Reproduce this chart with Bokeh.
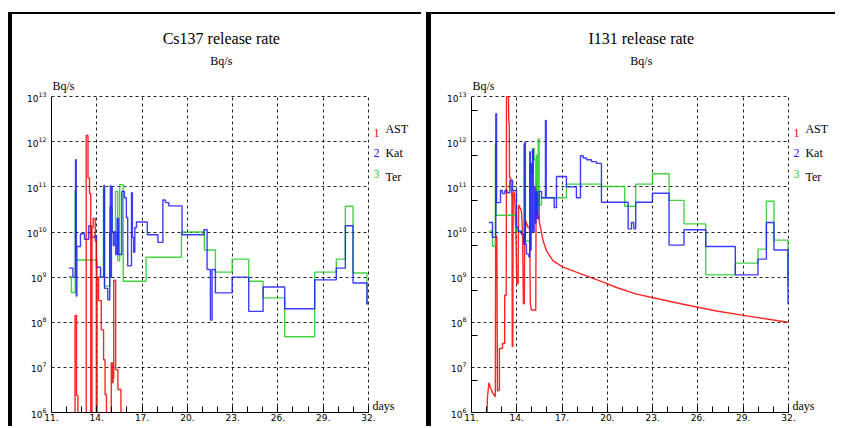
from bokeh.plotting import figure
from bokeh.layouts import row
from bokeh.models import (FixedTicker, PrintfTickFormatter, LogTickFormatter, Label, Range1d)
from bokeh.embed import file_html
from bokeh.resources import INLINE

# ---------------- data (days of month, log10 of release rate in Bq/s) ----------------
day_ticks = [11, 14, 17, 20, 23, 26, 29, 32]
day_minor = list(range(11, 33))
decades = [6, 7, 8, 9, 10, 11, 12, 13]
legend_names = ["AST", "Kat", "Ter"]

# Cs137 - AST (red)
cs_ast_t = [12.50, 12.56, 12.66, 12.75, 13.30, 13.42, 13.52, 13.60, 13.68, 13.76, 13.90, 13.97,
            14.02, 14.12, 14.30, 14.45, 14.55, 14.64, 14.96, 15.03, 15.08, 15.12, 15.25, 15.40,
            15.60, 32.0]
cs_ast_v = [5.0, 8.15, 6.38, 5.0, 12.14, 11.2, 10.85, 5.0, 10.1, 10.3, 9.8, 5.0,
            9.0, 8.48, 7.83, 7.17, 6.4, 5.0, 7.1, 6.66, 6.75, 8.93, 6.95, 6.51,
            5.0, 5.0]
# Cs137 - Kat (blue)
cs_kat_t = [12.15, 12.42, 12.59, 12.64, 12.68, 12.92, 13.19, 13.47, 13.63, 13.85, 13.98, 14.25,
            14.47, 14.52, 14.73, 14.86, 14.90, 14.93, 14.97, 15.02, 15.10, 15.15, 15.25, 15.35,
            15.44, 15.66, 15.83, 15.96, 16.05, 16.30, 16.36, 16.45, 16.52, 16.63, 17.35, 18.05,
            18.38, 18.55, 18.77, 19.65, 21.09, 21.31, 21.53, 21.64, 21.86, 22.97, 24.07, 25.02,
            26.45, 28.44, 29.87, 30.47, 30.98, 31.90, 32.0]
cs_kat_v = [9.20, 9.00, 11.60, 8.58, 9.68, 9.96, 9.84, 10.14, 9.88, 9.92, 9.22, 9.00,
            11.03, 8.75, 8.50, 10.0, 11.03, 9.0, 11.0, 10.0, 9.7, 10.0, 9.5, 10.3,
            9.5, 10.9, 10.76, 10.32, 9.25, 10.87, 9.88, 9.55, 10.1, 10.22, 9.94, 9.77,
            10.71, 10.65, 10.58, 9.94, 10.05, 9.17, 8.05, 9.17, 8.65, 9.0, 8.24, 8.78,
            8.30, 8.94, 9.20, 10.14, 8.87, 8.41, 8.41]
# Cs137 - Ter (green)
cs_ter_t = [12.15, 12.32, 12.57, 12.62, 14.02, 14.44, 14.50, 14.86, 15.02, 15.24, 15.39, 15.52,
            15.75, 17.27, 19.61, 21.13, 21.86, 22.97, 24.07, 25.02, 26.45, 28.44, 29.87, 30.47,
            30.98, 31.90, 32.0]
cs_ter_v = [9.01, 8.66, 10.92, 9.38, 9.0, 10.96, 8.80, 10.56, 10.0, 10.9, 9.36, 11.05,
            8.91, 9.44, 10.0, 9.6, 9.11, 9.40, 8.91, 8.54, 7.68, 9.11, 9.40, 10.57,
            9.09, 8.41, 8.41]

# I131 - AST (red)
i_ast_t = [12.0, 12.05, 12.15, 12.25, 12.40, 12.55, 12.58, 12.60, 12.68, 12.72, 12.85, 12.85,
           13.05, 13.05, 13.20, 13.20, 13.30, 13.32, 13.45, 13.47, 13.50, 13.52, 13.60, 13.68,
           13.70, 13.74, 13.76, 13.85, 13.95, 14.00, 14.09, 14.12, 14.20, 14.31, 14.38, 14.44,
           14.50, 14.52, 14.60, 14.75, 14.85, 14.90, 14.97, 15.26, 15.28, 15.40, 15.53, 15.75,
           15.97, 16.41, 17.07, 17.95, 18.84, 19.72, 20.60, 21.88, 22.81, 25.02, 27.23, 29.43,
           31.97]
i_ast_v = [5.0, 6.3, 6.66, 6.55, 6.44, 6.36, 6.36, 9.9, 9.9, 6.47, 6.5, 7.42,
           7.42, 7.53, 7.53, 8.6, 8.6, 13.0, 13.0, 12.43, 12.43, 11.2, 11.2, 10.75,
           7.46, 7.46, 10.9, 10.85, 9.88, 8.85, 8.85, 10.6, 10.55, 10.46, 10.0, 8.41,
           8.41, 9.73, 10.24, 10.1, 10.1, 8.41, 8.27, 8.27, 11.12, 10.39, 10.17, 9.8,
           9.58, 9.36, 9.22, 9.11, 9.0, 8.89, 8.77, 8.63, 8.56, 8.40, 8.25, 8.13,
           8.0]
# I131 - Kat (blue)
i_kat_t = [12.15, 12.39, 12.61, 12.66, 12.92, 13.05, 13.21, 13.36, 13.54, 13.72, 13.98, 14.09,
           14.31, 14.46, 14.53, 14.57, 14.64, 14.80, 14.86, 14.90, 14.95, 15.00, 15.05, 15.10,
           15.15, 15.20, 15.26, 15.35, 15.48, 15.64, 15.90, 15.95, 16.48, 16.63, 17.29, 17.95,
           18.22, 18.40, 18.62, 18.95, 19.28, 19.61, 21.38, 21.60, 21.75, 21.88, 22.99, 24.09,
           25.08, 26.52, 28.48, 29.98, 30.54, 31.04, 31.97, 32.0]
i_kat_v = [10.21, 9.88, 12.62, 10.65, 10.92, 10.85, 10.92, 10.87, 11.14, 10.92, 10.10, 10.02,
           9.95, 9.73, 11.99, 9.73, 9.51, 9.45, 11.78, 9.6, 11.5, 10.0, 11.83, 10.0,
           11.0, 10.2, 10.9, 10.3, 10.9, 10.76, 12.47, 10.76, 10.54, 11.23, 11.0, 10.76,
           11.69, 11.64, 11.60, 11.56, 11.52, 10.66, 10.07, 10.21, 10.07, 10.66, 10.86, 9.71,
           10.05, 9.68, 9.05, 9.40, 10.21, 9.60, 8.41, 8.41]
# I131 - Ter (green)
i_ter_t = [12.15, 12.39, 12.58, 12.63, 13.98, 14.46, 14.50, 14.86, 14.95, 15.04, 15.15, 15.26,
           15.30, 15.35, 15.42, 15.48, 15.64, 17.29, 19.61, 21.15, 21.88, 22.99, 24.09, 25.08,
           26.52, 28.48, 29.98, 30.54, 31.04, 31.97, 32.0]
i_ter_v = [10.02, 9.69, 11.95, 10.37, 10.02, 11.95, 9.80, 11.52, 11.3, 11.85, 11.6, 10.4,
           11.7, 10.5, 12.06, 10.6, 10.76, 11.06, 11.01, 10.57, 11.06, 11.29, 10.70, 10.18,
           9.05, 9.31, 9.62, 10.68, 9.82, 8.82, 8.82]

RED = "#ff0000"
BLUE = "#1a1aff"
GREEN = "#22cc22"
SERIF = "Liberation Serif"
SANS = "DejaVu Sans"


def pw(vals):
    return [10 ** v for v in vals]


def panel(title, width, left, right, series, minor_y, margin_left, border_left):
    # ranges reach a hair beyond 32 days / 1e13 so the dashed edge grid lines stay visible
    p = figure(width=width, height=414, x_range=Range1d(11, 32.07),
               y_range=Range1d(1e6, 10 ** 13.025),
               y_axis_type="log", output_backend="svg", toolbar_location=None,
               min_border_left=left, min_border_right=right - 1, min_border_top=81,
               min_border_bottom=16)
    p.margin = (12, 0, 0, margin_left)
    p.styles = {"border-left": f"{border_left}px solid black", "border-top": "2px solid black"}
    p.outline_line_color = None

    # x axis
    p.xaxis.ticker = FixedTicker(ticks=day_ticks, minor_ticks=day_minor)
    p.xaxis.formatter = PrintfTickFormatter(format="%d.")
    p.xaxis.bounds = (11, 32)
    p.xaxis.major_tick_in = 6
    p.xaxis.major_tick_out = 0
    p.xaxis.minor_tick_in = 6
    p.xaxis.minor_tick_out = 0
    p.xaxis.major_label_standoff = 1
    p.xaxis.major_label_text_font = SANS
    p.xaxis.major_label_text_font_size = "9px"
    p.xaxis.major_label_text_color = "black"
    p.xaxis.axis_line_color = "black"
    p.xaxis.major_tick_line_color = "black"
    p.xaxis.minor_tick_line_color = "black"

    # y axis (powers of ten with superscript exponents)
    p.yaxis.ticker = FixedTicker(ticks=pw(decades),
                                 minor_ticks=[5 * 10 ** d for d in decades[:-1]] if minor_y else [])
    p.yaxis.formatter = LogTickFormatter()
    p.yaxis.bounds = (1e6, 1e13)
    p.yaxis.major_tick_in = 0
    p.yaxis.major_tick_out = 0
    p.yaxis.minor_tick_in = 6 if minor_y else 0
    p.yaxis.minor_tick_out = 0
    p.yaxis.minor_tick_line_color = "black"
    p.yaxis.major_label_standoff = 5
    p.yaxis.major_label_text_font = SANS
    p.yaxis.major_label_text_font_size = "9px"
    p.yaxis.major_label_text_color = "black"
    p.yaxis.axis_line_color = "black"

    # dashed grid
    p.xgrid.ticker = FixedTicker(ticks=day_ticks[1:])
    p.ygrid.ticker = FixedTicker(ticks=pw(decades[1:]))
    p.xgrid.bounds = (1e6, 1e13)
    p.ygrid.bounds = (11, 32)
    for g in (p.xgrid, p.ygrid):
        g.grid_line_color = "black"
        g.grid_line_dash = "3 3"
        g.grid_line_width = 1
        g.grid_line_alpha = 0.85

    # series
    for kind, t, v, color in series:
        if kind == "step":
            p.step(t, pw(v), mode="after", line_color=color, line_width=1.4, line_alpha=0.85)
        else:
            p.line(t, pw(v), line_color=color, line_width=1.4, line_alpha=0.85)

    # texts above the frame (placed in the top side panel so they are not clipped)
    common = dict(text_baseline="middle", text_font=SERIF, text_color="black")
    p.add_layout(Label(x=22.25, y=1e13, y_offset=58, text=title, text_align="center",
                       text_font_size="16px", **common), "above")
    p.add_layout(Label(x=22.25, y=1e13, y_offset=36, text="Bq/s", text_align="center",
                       text_font_size="12px", **common), "above")
    p.add_layout(Label(x=11, y=1e13, x_offset=1, y_offset=11, text="Bq/s", text_align="left",
                       text_font_size="12px", **common), "above")
    p.add_layout(Label(x=32, y=1e6, x_offset=4, y_offset=7, text="days", text_align="left",
                       text_font_size="12px", **common), "above")

    # numbered legend at the right
    p.add_layout(Label(x=32, y=1e13, x_offset=17, y_offset=-56, text="\n".join(legend_names),
                       text_align="left", text_baseline="middle", text_font=SERIF,
                       text_font_size="12px", text_color="black", text_line_height=1.71), "right")
    for i, color in enumerate([RED, BLUE, GREEN]):
        p.add_layout(Label(x=32, y=1e13, x_offset=5, y_offset=-(36 + 20.5 * i), text=str(i + 1),
                           text_color=color, text_align="left", text_baseline="middle",
                           text_font=SERIF, text_font_size="12px"), "right")
    return p


left = panel("Cs137 release rate", 413, 39, 57,
             [("step", cs_ter_t, cs_ter_v, GREEN), ("step", cs_kat_t, cs_kat_v, BLUE),
              ("step", cs_ast_t, cs_ast_v, RED)],
             minor_y=False, margin_left=8, border_left=4)
right = panel("I131 release rate", 409, 40, 52,
              [("line", i_ast_t, i_ast_v, RED), ("step", i_ter_t, i_ter_v, GREEN),
               ("step", i_kat_t, i_kat_v, BLUE)],
              minor_y=True, margin_left=5, border_left=5)

layout = row(left, right)
open("out.html", "w").write(file_html(layout, INLINE))
